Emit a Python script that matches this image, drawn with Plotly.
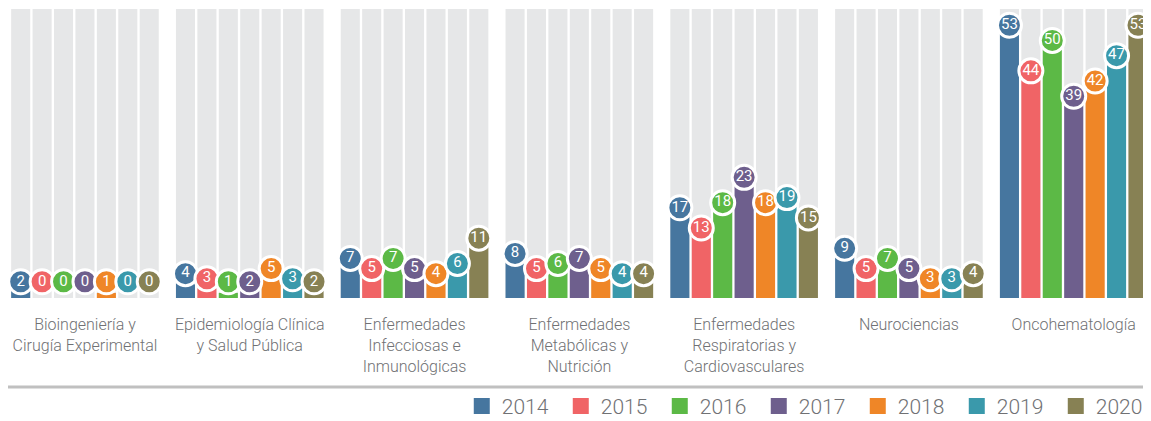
import plotly.graph_objects as go

categories = [
    "Bioingeniería y<br>Cirugía Experimental",
    "Epidemiología Clínica<br>y Salud Pública",
    "Enfermedades<br>Infecciosas e<br>Inmunológicas",
    "Enfermedades<br>Metabólicas y<br>Nutrición",
    "Enfermedades<br>Respiratorias y<br>Cardiovasculares",
    "Neurociencias",
    "Oncohematología",
]
years = ["2014", "2015", "2016", "2017", "2018", "2019", "2020"]

v2014 = [2, 4, 7, 8, 17, 9, 53]
v2015 = [0, 3, 5, 5, 13, 5, 44]
v2016 = [0, 1, 7, 6, 18, 7, 50]
v2017 = [0, 2, 5, 7, 23, 5, 39]
v2018 = [1, 5, 4, 5, 18, 3, 42]
v2019 = [0, 3, 6, 4, 19, 3, 47]
v2020 = [0, 2, 11, 4, 15, 4, 53]
series = [v2014, v2015, v2016, v2017, v2018, v2019, v2020]

colors = ["#46769f", "#f06466", "#5cb946", "#6e5f8d", "#ef8627", "#3a99ab", "#878154"]
track_color = "#e6e7e8"
track_max = 57
text_color = "#707174"
font_family = "Roboto, Liberation Sans, sans-serif"

fig = go.Figure()

# background tracks
for yr in years:
    fig.add_trace(go.Bar(
        x=categories, y=[track_max] * len(categories),
        marker=dict(color=track_color, line=dict(width=0)),
        offsetgroup=yr, showlegend=False, hoverinfo="skip",
    ))

# value bars
for yr, vals, col in zip(years, series, colors):
    fig.add_trace(go.Bar(
        x=categories, y=vals, name=yr,
        marker=dict(color=col, line=dict(width=0)),
        offsetgroup=yr, showlegend=False,
    ))

# circle labels
for yr, vals, col in zip(years, series, colors):
    fig.add_trace(go.Scatter(
        x=categories, y=[max(v, 2.4) + 0.8 for v in vals],
        mode="markers+text", text=[str(v) for v in vals],
        textposition="middle center",
        textfont=dict(color="white", size=15, family=font_family),
        marker=dict(size=24, color=col, line=dict(color="white", width=3)),
        offsetgroup=yr, showlegend=False, hoverinfo="skip", cliponaxis=False,
    ))

# legend entries (square swatches)
for yr, col in zip(years, colors):
    fig.add_trace(go.Scatter(
        x=[None], y=[None], name=yr, mode="markers",
        marker=dict(symbol="square", size=16, color=col),
        offsetgroup=yr, showlegend=True, hoverinfo="skip",
    ))

fig.update_layout(
    width=1143, height=413,
    margin=dict(l=0, r=0, t=1, b=123, autoexpand=False),
    paper_bgcolor="white", plot_bgcolor="white",
    barmode="group", bargap=0.09, bargroupgap=0.11,
    scattermode="group", scattergap=0.09,
    xaxis=dict(
        range=[-0.467, 6.469], showgrid=False, zeroline=False, showline=False,
        ticks="outside", ticklen=12, tickcolor="rgba(0,0,0,0)", tickangle=0,
        automargin=False,
        tickfont=dict(family=font_family, size=16, color=text_color, weight=300),
        fixedrange=True,
    ),
    yaxis=dict(range=[0, track_max], visible=False, fixedrange=True),
    legend=dict(
        orientation="h", x=0.397, xanchor="left", y=-0.446, yanchor="bottom",
        bgcolor="rgba(0,0,0,0)",
        font=dict(family=font_family, size=21, color=text_color, weight=300),
        entrywidth=54, entrywidthmode="pixels", traceorder="normal",
        itemsizing="trace",
    ),
    shapes=[dict(type="line", xref="paper", yref="paper", x0=0, x1=1,
                 y0=-0.308, y1=-0.308, line=dict(color="#c0c0c0", width=3))],
)

fig.write_html("out.html")
